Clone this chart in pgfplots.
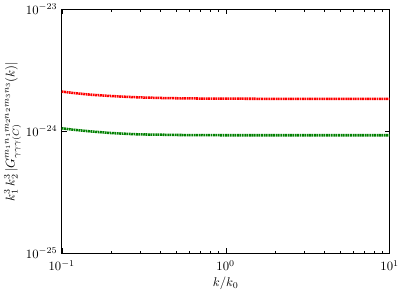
\documentclass[border=0pt]{standalone}
\usepackage{pgfplots}
\pgfplotsset{compat=1.18}
\definecolor{mygreen}{rgb}{0,0.5,0}
\begin{document}
\begin{tikzpicture}
\begin{loglogaxis}[
  scale only axis,
  width=258bp, height=192bp,
  xmin=0.1, xmax=10, ymin=1e-25, ymax=1e-23,
  axis line style={line width=0.9pt},
  tick align=inside,
  ytickten={-25,-24,-23},
  yminorticks=false,
  major tick length=4pt, minor tick length=2pt,
  tick style={black},
  xlabel={$k/k_0$},
  ylabel={$k_1^3\,k_2^3\,|G^{m_1n_1m_2n_2m_3n_3}_{\gamma\gamma\gamma(C)}(k)|$},
  xticklabel style={yshift=-2pt},
  xlabel style={yshift=2pt},
  ylabel style={yshift=-3pt},
]
\addplot[red, line width=2pt, dash pattern=on 1.4pt off 0.5pt] coordinates {
(0.1,2.12e-24) (0.12,2.06e-24) (0.15,2.0e-24) (0.2,1.95e-24) (0.25,1.92e-24) (0.3,1.9e-24)
(0.4,1.88e-24) (0.5,1.87e-24) (0.7,1.86e-24) (1,1.855e-24) (2,1.85e-24) (5,1.85e-24) (10,1.85e-24)};
\addplot[mygreen, line width=2pt, dash pattern=on 1.4pt off 0.5pt] coordinates {
(0.1,1.06e-24) (0.12,1.03e-24) (0.15,1.0e-24) (0.2,0.97e-24) (0.25,0.955e-24) (0.3,0.945e-24)
(0.4,0.94e-24) (0.5,0.935e-24) (0.7,0.932e-24) (1,0.93e-24) (2,0.93e-24) (5,0.93e-24) (10,0.93e-24)};
\end{loglogaxis}
\end{tikzpicture}
\end{document}
